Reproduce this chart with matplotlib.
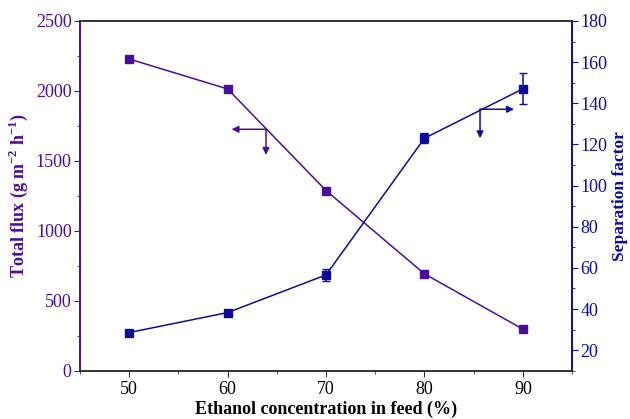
import numpy as np
import matplotlib.pyplot as plt

plt.rcParams['font.family'] = 'Liberation Serif'
plt.rcParams['mathtext.fontset'] = 'custom'
plt.rcParams['mathtext.rm'] = 'Liberation Serif'
plt.rcParams['mathtext.bf'] = 'Liberation Serif:bold'

# data
ethanol = [50, 60, 70, 80, 90]
flux = [2228, 2014, 1288, 693, 298]
sep_factor = [28.6, 38.3, 56.6, 123.0, 147.0]
sep_err = [0, 0, 2.8, 2.5, 7.5]

c_flux = '#4b0c9c'
c_sep = '#0c0c9c'

fig, ax = plt.subplots(figsize=(6.30, 4.19), dpi=100)
fig.subplots_adjust(left=0.127, right=0.908, top=0.95, bottom=0.115)
ax2 = ax.twinx()

ax.plot(ethanol, flux, '-s', color=c_flux, lw=1.1, ms=6)
ax2.errorbar(ethanol, sep_factor, yerr=sep_err, fmt='-s', color=c_sep,
             lw=1.1, ms=6, capsize=3, elinewidth=1.1)

ax.set_xlim(45, 95)
ax.set_ylim(0, 2500)
ax2.set_ylim(10, 180)

ax.set_xticks([50, 60, 70, 80, 90])
ax.set_xticks(np.arange(45, 96, 5), minor=True)
ax.set_yticks(np.arange(0, 2501, 500))
ax.set_yticks(np.arange(0, 2501, 250), minor=True)
ax2.set_yticks(np.arange(20, 181, 20))
ax2.set_yticks(np.arange(10, 181, 10), minor=True)

ax.tick_params(axis='x', which='both', direction='out', colors='#333333', labelsize=13)
ax.tick_params(axis='x', which='major', length=4)
ax.tick_params(axis='x', which='minor', length=2)
ax.tick_params(axis='y', which='both', colors=c_flux, labelsize=13)
ax.tick_params(axis='y', which='major', length=4, pad=2)
ax.tick_params(axis='y', which='minor', length=2)
ax2.tick_params(axis='y', which='both', colors=c_sep, labelsize=13)
ax2.tick_params(axis='y', which='major', length=4, pad=2)
ax2.tick_params(axis='y', which='minor', length=2)
ax.tick_params(axis='x', labelcolor='black')

for a in (ax, ax2):
    a.spines['top'].set_color('#333333')
    a.spines['bottom'].set_color('#333333')
    a.spines['left'].set_color(c_flux)
    a.spines['right'].set_color(c_sep)
    for s in a.spines.values():
        s.set_linewidth(1.2)

ax.set_xlabel('Ethanol concentration in feed (%)', fontsize=13, fontweight='bold', labelpad=2)
ax.set_ylabel(r'Total flux (g m$^{\mathbf{-2}}$ h$^{\mathbf{-1}}$)', fontsize=13,
              fontweight='bold', color=c_flux, labelpad=4)
ax2.set_ylabel('Separation factor', fontsize=12.5, fontweight='bold', color=c_sep, labelpad=3)

# axis indicator arrows
ax.annotate('', xy=(60.4, 1726), xytext=(63.9, 1726),
            arrowprops=dict(arrowstyle='-|>', color=c_flux, lw=1.1, mutation_scale=10, shrinkA=0, shrinkB=0))
ax.annotate('', xy=(63.9, 1543), xytext=(63.9, 1726),
            arrowprops=dict(arrowstyle='-|>', color=c_flux, lw=1.1, mutation_scale=10, shrinkA=0, shrinkB=0))
ax2.annotate('', xy=(89.1, 137.1), xytext=(85.65, 137.1),
             arrowprops=dict(arrowstyle='-|>', color=c_sep, lw=1.1, mutation_scale=10, shrinkA=0, shrinkB=0))
ax2.annotate('', xy=(85.65, 123), xytext=(85.65, 137.1),
             arrowprops=dict(arrowstyle='-|>', color=c_sep, lw=1.1, mutation_scale=10, shrinkA=0, shrinkB=0))

fig.savefig('out.png', dpi=100)
